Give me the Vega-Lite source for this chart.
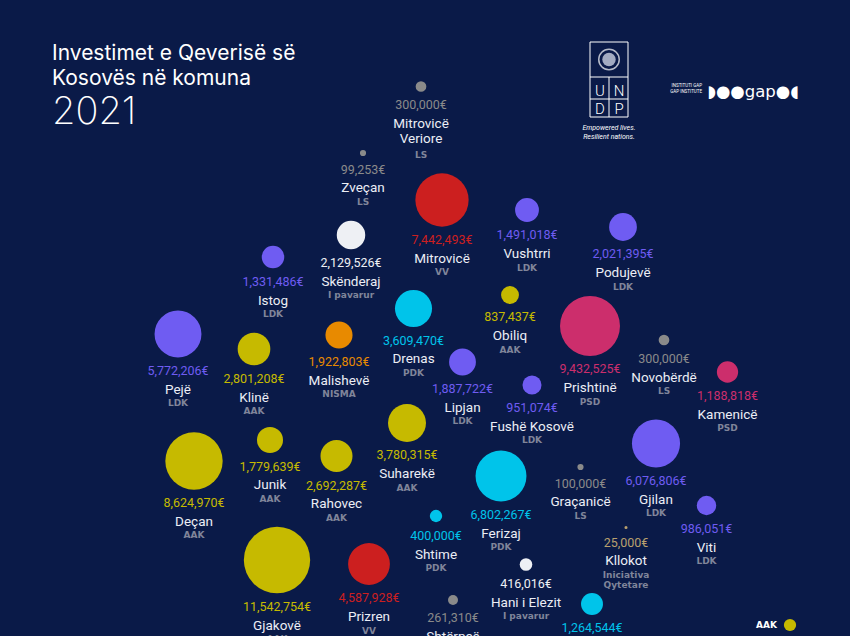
{
  "$schema": "https://vega.github.io/schema/vega-lite/v6.json",
  "width": 850,
  "height": 636,
  "autosize": {"type": "none"},
  "padding": 0,
  "background": "#0a1a48",
  "config": {"view": {"stroke": null}, "text": {"font": "Roboto"}},
  "title": {
    "text": ["Investimet e Qeverisë së", "Kosovës në komuna"],
    "subtitle": "2021",
    "anchor": "start",
    "frame": "group",
    "orient": "top",
    "dx": 52,
    "offset": -132,
    "font": "Inter",
    "fontSize": 21,
    "fontWeight": 400,
    "color": "#ffffff",
    "lineHeight": 25,
    "subtitleFont": "Inter",
    "subtitleFontSize": 38,
    "subtitleFontWeight": 200,
    "subtitleColor": "#ffffff",
    "subtitlePadding": 5
  },
  "datasets": {
    "munis": [
      {"name": "Mitrovicë\nVeriore", "party": "LS", "value": 300000, "x": 421, "y": 86.5},
      {"name": "Zveçan", "party": "LS", "value": 99253, "x": 363, "y": 153},
      {"name": "Mitrovicë", "party": "VV", "value": 7442493, "x": 442, "y": 200},
      {"name": "Vushtrri", "party": "LDK", "value": 1491018, "x": 527, "y": 210},
      {"name": "Podujevë", "party": "LDK", "value": 2021395, "x": 623, "y": 227},
      {"name": "Skënderaj", "party": "I pavarur", "value": 2129526, "x": 351, "y": 235},
      {"name": "Istog", "party": "LDK", "value": 1331486, "x": 273, "y": 257},
      {"name": "Pejë", "party": "LDK", "value": 5772206, "x": 178, "y": 334},
      {"name": "Klinë", "party": "AAK", "value": 2801208, "x": 254, "y": 349},
      {"name": "Malishevë", "party": "NISMA", "value": 1922803, "x": 339, "y": 335},
      {"name": "Drenas", "party": "PDK", "value": 3609470, "x": 413.5, "y": 308.5},
      {"name": "Obiliq", "party": "AAK", "value": 837437, "x": 510, "y": 295},
      {"name": "Lipjan", "party": "LDK", "value": 1887722, "x": 462.5, "y": 362},
      {"name": "Fushë Kosovë", "party": "LDK", "value": 951074, "x": 532, "y": 385},
      {"name": "Prishtinë", "party": "PSD", "value": 9432525, "x": 590, "y": 326},
      {"name": "Novobërdë", "party": "LS", "value": 300000, "x": 664, "y": 340},
      {"name": "Kamenicë", "party": "PSD", "value": 1188818, "x": 727.5, "y": 372},
      {"name": "Suharekë", "party": "AAK", "value": 3780315, "x": 407, "y": 423},
      {"name": "Deçan", "party": "AAK", "value": 8624970, "x": 194, "y": 461},
      {"name": "Junik", "party": "AAK", "value": 1779639, "x": 270, "y": 440},
      {"name": "Rahovec", "party": "AAK", "value": 2692287, "x": 336.5, "y": 456},
      {"name": "Ferizaj", "party": "PDK", "value": 6802267, "x": 501, "y": 476},
      {"name": "Gjilan", "party": "LDK", "value": 6076806, "x": 656, "y": 443.5},
      {"name": "Graçanicë", "party": "LS", "value": 100000, "x": 580.5, "y": 467},
      {"name": "Viti", "party": "LDK", "value": 986051, "x": 706.5, "y": 505.5},
      {"name": "Kllokot", "party": "Iniciativa\nQytetare", "value": 25000, "x": 626, "y": 527.5},
      {"name": "Shtime", "party": "PDK", "value": 400000, "x": 436, "y": 516},
      {"name": "Hani i Elezit", "party": "I pavarur", "value": 416016, "x": 526, "y": 564.5},
      {"name": "Gjakovë", "party": "AAK", "value": 11542754, "x": 277, "y": 560},
      {"name": "Prizren", "party": "VV", "value": 4587928, "x": 369, "y": 564},
      {"name": "Shtërpcë", "party": "LS", "value": 261310, "x": 453, "y": 600},
      {"name": "Kaçanik", "party": "PDK", "value": 1264544, "x": 592, "y": 604}
    ],
    "logo": [
      {"k": "box", "x": 590, "y": 42, "x2": 628, "y2": 117},
      {"k": "line", "x": 590, "y": 77, "x2": 628, "y2": 77},
      {"k": "line", "x": 590, "y": 99, "x2": 628, "y2": 99},
      {"k": "line", "x": 609, "y": 77, "x2": 609, "y2": 117},
      {"k": "letter", "x": 600, "y": 96, "t": "U"},
      {"k": "letter", "x": 619, "y": 96, "t": "N"},
      {"k": "letter", "x": 600, "y": 113.5, "t": "D"},
      {"k": "letter", "x": 619, "y": 113.5, "t": "P"},
      {"k": "emblem", "x": 609, "y": 59.5},
      {"k": "tag", "x": 609, "y": 130, "t": "Empowered lives."},
      {"k": "tag", "x": 609, "y": 139, "t": "Resilient nations."},
      {"k": "small", "x": 702, "y": 87, "t": "INSTITUTI GAP"},
      {"k": "small", "x": 702, "y": 93, "t": "GAP INSTITUTE"},
      {"k": "gap", "x": 753, "y": 96.5, "t": "◗●●gap●◖"}
    ]
  },
  "layer": [
    {
      "data": {"name": "munis"},
      "transform": [
        {"calculate": "sqrt(4400*datum.value/11542754)/2", "as": "r"},
        {"calculate": "datum.y + datum.r + 17.5", "as": "vb"},
        {"calculate": "datum.y + datum.r + 36.4", "as": "nb"},
        {"calculate": "datum.y + datum.r + 48.7 + (indexof(datum.name, '\\n') >= 0 ? 17 : 0)", "as": "pb"},
        {"calculate": "format(datum.value, ',') + '€'", "as": "label"}
      ],
      "layer": [
        {
          "mark": {"type": "circle", "opacity": 1, "clip": true},
          "encoding": {
            "x": {"field": "x", "type": "quantitative", "scale": {"domain": [0, 850], "nice": false, "zero": false}, "axis": null},
            "y": {"field": "y", "type": "quantitative", "scale": {"domain": [0, 636], "reverse": true, "nice": false, "zero": false}, "axis": null},
            "size": {"field": "value", "type": "quantitative", "scale": {"domain": [0, 11542754], "range": [0, 4400], "zero": true}, "legend": null},
            "color": {
              "field": "party", "type": "nominal",
              "scale": {
                "domain": ["AAK", "LDK", "VV", "PDK", "PSD", "NISMA", "LS", "I pavarur", "Iniciativa\nQytetare"],
                "range": ["#c6ba00", "#6f5cf2", "#cc1f1f", "#00c4ea", "#cc2e6c", "#e88a00", "#8a8a8a", "#eef0f4", "#b9a06e"]
              },
              "legend": {
                "orient": "none", "legendX": 783, "legendY": 618, "title": null,
                "values": ["AAK"], "symbolSize": 150, "symbolType": "circle",
                "labelColor": "#ffffff", "labelFont": "DejaVu Sans", "labelFontWeight": "bold",
                "labelFontSize": 9, "labelAlign": "right", "labelOffset": -20
              }
            }
          }
        },
        {
          "mark": {"type": "text", "align": "center", "baseline": "alphabetic", "fontSize": 12.5, "clip": true},
          "encoding": {
            "x": {"field": "x", "type": "quantitative"},
            "y": {"field": "vb", "type": "quantitative"},
            "text": {"field": "label"},
            "color": {"field": "party", "type": "nominal", "legend": null}
          }
        },
        {
          "mark": {"type": "text", "align": "center", "baseline": "alphabetic", "fontSize": 13.5, "fill": "#eceef5", "lineBreak": "\n", "lineHeight": 15, "clip": true},
          "encoding": {
            "x": {"field": "x", "type": "quantitative"},
            "y": {"field": "nb", "type": "quantitative"},
            "text": {"field": "name"}
          }
        },
        {
          "mark": {"type": "text", "align": "center", "baseline": "alphabetic", "fontSize": 9, "font": "DejaVu Sans", "fontWeight": "bold", "fill": "#80859a", "lineBreak": "\n", "lineHeight": 10, "clip": true},
          "encoding": {
            "x": {"field": "x", "type": "quantitative"},
            "y": {"field": "pb", "type": "quantitative"},
            "text": {"field": "party"}
          }
        }
      ]
    },
    {
      "data": {"name": "logo"},
      "layer": [
        {
          "transform": [{"filter": "datum.k == 'box'"}],
          "mark": {"type": "rect", "fill": null, "stroke": "#ffffff", "strokeWidth": 1},
          "encoding": {
            "x": {"field": "x", "type": "quantitative"},
            "x2": {"field": "x2"},
            "y": {"field": "y", "type": "quantitative"},
            "y2": {"field": "y2"}
          }
        },
        {
          "transform": [{"filter": "datum.k == 'line'"}],
          "mark": {"type": "rule", "stroke": "#ffffff", "strokeWidth": 1},
          "encoding": {
            "x": {"field": "x", "type": "quantitative"},
            "x2": {"field": "x2"},
            "y": {"field": "y", "type": "quantitative"},
            "y2": {"field": "y2"}
          }
        },
        {
          "transform": [{"filter": "datum.k == 'emblem'"}],
          "mark": {"type": "point", "shape": "circle", "filled": false, "stroke": "#ffffff", "strokeWidth": 1.5, "size": 420},
          "encoding": {
            "x": {"field": "x", "type": "quantitative"},
            "y": {"field": "y", "type": "quantitative"}
          }
        },
        {
          "transform": [{"filter": "datum.k == 'emblem'"}],
          "mark": {"type": "point", "shape": "circle", "filled": true, "fill": "#c9cfe0", "opacity": 0.8, "size": 180},
          "encoding": {
            "x": {"field": "x", "type": "quantitative"},
            "y": {"field": "y", "type": "quantitative"}
          }
        },
        {
          "transform": [{"filter": "datum.k == 'letter'"}],
          "mark": {"type": "text", "align": "center", "baseline": "alphabetic", "fontSize": 15, "font": "Roboto", "fontWeight": 300, "fill": "#ffffff"},
          "encoding": {
            "x": {"field": "x", "type": "quantitative"},
            "y": {"field": "y", "type": "quantitative"},
            "text": {"field": "t"}
          }
        },
        {
          "transform": [{"filter": "datum.k == 'tag'"}],
          "mark": {"type": "text", "align": "center", "baseline": "alphabetic", "fontSize": 7, "font": "Roboto", "fontStyle": "italic", "fill": "#ffffff"},
          "encoding": {
            "x": {"field": "x", "type": "quantitative"},
            "y": {"field": "y", "type": "quantitative"},
            "text": {"field": "t"}
          }
        },
        {
          "transform": [{"filter": "datum.k == 'small'"}],
          "mark": {"type": "text", "align": "right", "baseline": "alphabetic", "fontSize": 4.5, "font": "Roboto", "fill": "#ffffff"},
          "encoding": {
            "x": {"field": "x", "type": "quantitative"},
            "y": {"field": "y", "type": "quantitative"},
            "text": {"field": "t"}
          }
        },
        {
          "transform": [{"filter": "datum.k == 'gap'"}],
          "mark": {"type": "text", "align": "center", "baseline": "alphabetic", "fontSize": 16.5, "font": "DejaVu Sans", "fill": "#ffffff"},
          "encoding": {
            "x": {"field": "x", "type": "quantitative"},
            "y": {"field": "y", "type": "quantitative"},
            "text": {"field": "t"}
          }
        }
      ]
    }
  ]
}
